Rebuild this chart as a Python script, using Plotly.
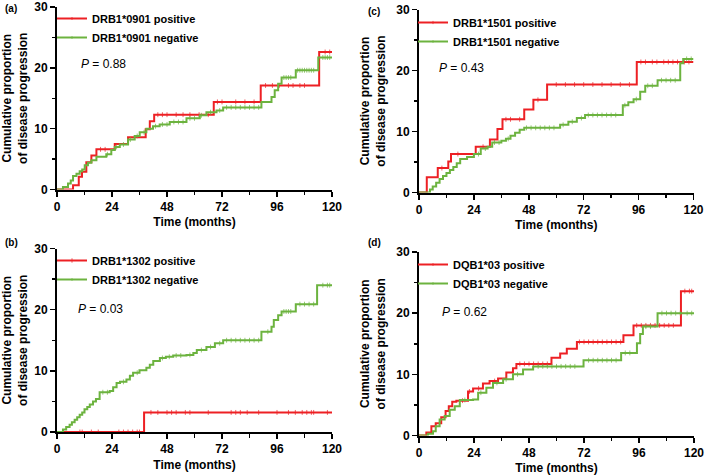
import numpy as np
import plotly.graph_objects as go

# ---------------- data ----------------
MONTH_TICKS = [0, 24, 48, 72, 96, 120]
PCT_TICKS = [0, 10, 20, 30]

# (a) DRB1*0901
a_pos_t = [0, 7.0, 9.5, 10.9, 12.8, 15.0, 17.2, 25.2, 31.0, 38.7, 40.5, 42.4, 68.4, 88.9, 114.4]
a_pos_v = [0, 0.7, 2.1, 2.9, 4.5, 5.6, 6.6, 7.5, 8.6, 9.9, 11.2, 12.3, 14.4, 17.1, 22.6]
a_pos_c = [19, 21, 44, 46, 48, 52, 55, 58, 62, 66, 70, 72, 78, 82, 86, 91, 94, 97, 101, 103, 106, 108, 117, 119]
a_neg_t = [0, 2.6, 4.8, 6.0, 7.0, 8.5, 9.9, 11.0, 12.1, 13.5, 15.0, 17.2, 21.5, 23.7, 25.2, 27.4, 31.0, 33.9,
           36.1, 39.0, 41.9, 44.8, 49.2, 56.5, 62.3, 65.2, 69.6, 72.5, 89.2, 93.6, 95.0, 96.5, 98.0, 104.2, 114.0]
a_neg_v = [0, 0.4, 1.0, 1.5, 2.2, 2.6, 3.0, 3.3, 4.0, 4.4, 4.8, 5.4, 5.8, 6.5, 7.0, 7.4, 8.2, 8.8,
           9.4, 10.0, 10.4, 10.7, 11.1, 11.7, 12.2, 12.7, 13.0, 13.5, 14.4, 15.2, 16.3, 17.4, 18.4, 19.6, 21.7]
a_neg_c = [22, 26, 29, 32, 35, 38, 43, 46, 48, 51, 53, 55, 58, 60, 63, 67, 71, 74, 76, 78, 80, 82, 84, 86,
           88, 99, 100, 101, 102, 105, 106, 107, 108, 109, 110, 111, 112, 116, 117, 118, 119]

# (c) DRB1*1501
c_pos_t = [0, 3.4, 8.2, 12.8, 14.0, 24.8, 31.0, 34.3, 36.5, 46.0, 50.0, 56.0, 95.2]
c_pos_v = [0, 2.5, 4.0, 5.1, 6.3, 7.5, 8.7, 10.4, 12.0, 13.6, 15.2, 17.7, 21.4]
c_pos_c = [10, 17, 28, 38, 40, 44, 52, 60, 64, 68, 72, 76, 80, 84, 88, 92, 97, 99, 102, 104, 107,
           109, 111, 113, 116, 118]
c_neg_t = [0, 4.8, 6.0, 7.5, 9.0, 10.5, 12.0, 13.5, 15.0, 16.5, 18.0, 21.0, 24.0, 27.0, 30.0, 32.0, 36.0,
           38.0, 40.0, 42.0, 44.0, 46.0, 61.7, 65.3, 69.0, 72.6, 89.1, 91.5, 93.8, 96.7, 98.9, 104.3, 114.2, 115.5]
c_neg_v = [0, 0.5, 1.0, 1.6, 2.2, 2.7, 3.2, 3.7, 4.2, 4.8, 5.5, 5.8, 6.3, 7.2, 7.5, 8.2, 8.5,
           8.8, 9.3, 9.8, 10.3, 10.6, 11.1, 11.6, 12.2, 12.7, 14.3, 14.8, 15.3, 16.5, 17.5, 18.4, 21.2, 21.9]
c_neg_c = [26, 29, 33, 35, 39, 47, 49, 51, 53, 55, 57, 59, 63, 67, 71, 74, 76, 78, 80, 82, 84, 86,
           90, 95, 100, 102, 106, 108, 110, 112, 117, 119]

# (b) DRB1*1302
b_pos_t = [0, 38.0]
b_pos_v = [0, 3.2]
b_pos_c = [10, 11, 15, 18, 27, 29, 31, 33, 35, 36, 41, 44, 48, 50, 52, 56, 58, 66, 76, 78, 80, 83, 88,
           96, 101, 104, 107, 109, 111, 112, 118]
b_neg_t = [0, 2.6, 4.0, 5.5, 6.5, 7.7, 8.8, 9.9, 11.0, 12.0, 13.2, 14.3, 15.7, 17.0, 18.6, 23.0, 24.5, 26.0,
           27.5, 30.3, 31.8, 33.2, 36.0, 39.0, 40.5, 42.0, 44.9, 47.5, 50.7, 56.5, 59.5, 61.0, 65.2, 68.9,
           72.5, 89.2, 93.6, 94.6, 96.5, 98.0, 104.2, 113.5]
b_neg_v = [0, 0.4, 0.8, 1.2, 1.6, 2.0, 2.4, 2.8, 3.2, 3.7, 4.1, 4.5, 5.0, 5.4, 6.5, 6.7, 7.3, 8.0,
           8.2, 8.6, 9.2, 9.7, 10.1, 10.5, 11.0, 11.6, 12.1, 12.3, 12.5, 12.6, 12.9, 13.4, 13.9, 14.5,
           15.0, 16.4, 17.2, 18.3, 19.1, 19.7, 20.9, 24.0]
b_neg_c = [20, 22, 29, 35, 46, 49, 52, 54, 58, 63, 67, 71, 74, 76, 78, 80, 82, 84, 86, 88, 92, 99, 100,
           101, 102, 106, 108, 110, 112, 116, 118, 119]

# (d) DQB1*03
d_pos_t = [0, 3.2, 5.4, 7.3, 9.7, 11.6, 13.0, 14.5, 16.3, 21.4, 23.6, 27.9, 30.8, 34.5, 38.1, 41.0, 42.5,
           57.8, 61.6, 64.5, 68.9, 89.2, 93.6, 114.3]
d_pos_v = [0, 0.5, 1.5, 2.0, 3.0, 4.0, 4.8, 5.5, 5.7, 7.2, 7.7, 8.5, 8.9, 9.3, 10.3, 11.0, 11.7,
           12.7, 13.4, 14.2, 15.3, 16.4, 18.0, 23.6]
d_pos_c = [19, 22, 26, 33, 44, 46, 48, 50, 52, 54, 56, 70, 72, 74, 76, 78, 80, 82, 84, 86, 88, 95, 97,
           99, 101, 103, 105, 107, 109, 111, 116, 118, 119]
d_neg_t = [0, 3.9, 6.1, 7.3, 9.0, 11.2, 13.4, 15.6, 17.8, 23.6, 25.8, 29.4, 32.3, 36.7, 41.0, 45.4, 49.8,
           71.8, 88.2, 95.1, 96.5, 97.7, 104.1]
d_neg_v = [0, 0.3, 0.7, 1.5, 2.6, 3.2, 4.2, 4.8, 5.8, 5.9, 7.0, 7.8, 8.6, 9.2, 10.0, 10.8, 11.3,
           12.3, 13.5, 15.1, 16.6, 17.8, 20.0]
d_neg_c = [20, 27, 34, 38, 43, 52, 54, 56, 58, 60, 62, 64, 66, 68, 74, 76, 78, 80, 82, 84, 86, 90, 92,
           99, 101, 106, 108, 110, 112, 114, 117, 119]

# ---------------- styles ----------------
RED = "#ed2024"
GREEN = "#6cb33f"
FONT = "Liberation Sans, Arial, sans-serif"
END = 120


def km_trace(t, v, cens, name, color, xa, ya, legend):
    t = np.asarray(t, float)
    v = np.asarray(v, float)
    c = np.asarray(cens, float)
    cv = v[np.searchsorted(t, c, side="right") - 1]
    x = np.concatenate([t, c, [END]])
    y = np.concatenate([v, cv, [v[-1]]])
    s = np.concatenate([np.zeros(len(t)), np.full(len(c), 3.5), [0.0]])
    o = np.argsort(x, kind="stable")
    return go.Scatter(
        x=x[o], y=y[o], name=name, mode="lines+markers",
        line=dict(color=color, width=2, shape="hv"),
        marker=dict(symbol="line-ns", size=s[o], color=color, line=dict(width=1, color=color)),
        xaxis=xa, yaxis=ya, legend=legend, hoverinfo="skip",
    )


panels = [
    ("x", "y", "legend", "DRB1*0901", (a_pos_t, a_pos_v, a_pos_c), (a_neg_t, a_neg_v, a_neg_c)),
    ("x2", "y2", "legend2", "DRB1*1501", (c_pos_t, c_pos_v, c_pos_c), (c_neg_t, c_neg_v, c_neg_c)),
    ("x3", "y3", "legend3", "DRB1*1302", (b_pos_t, b_pos_v, b_pos_c), (b_neg_t, b_neg_v, b_neg_c)),
    ("x4", "y4", "legend4", "DQB1*03", (d_pos_t, d_pos_v, d_pos_c), (d_neg_t, d_neg_v, d_neg_c)),
]

fig = go.Figure()
for xa, ya, lg, allele, pos, neg in panels:
    fig.add_trace(km_trace(*pos, f"{allele} positive", RED, xa, ya, lg))
    fig.add_trace(km_trace(*neg, f"{allele} negative", GREEN, xa, ya, lg))

W, H = 705, 476
# pixel boxes of the four plot areas: (left, right, top, bottom)
boxes = {
    "1": (57, 332, 7, 189.5),
    "2": (419, 693.5, 9.5, 192.5),
    "3": (57, 332, 248.5, 432),
    "4": (419, 694, 252, 435.5),
}

axis_common = dict(
    showline=True, linecolor="black", linewidth=2, ticks="outside", ticklen=5, tickwidth=1.5,
    tickcolor="black", showgrid=False, zeroline=False, fixedrange=True, automargin=False,
    tickfont=dict(family=FONT, size=12, color="black", weight="bold"),
)
layout = dict(
    width=W, height=H, margin=dict(l=0, r=0, t=0, b=0, autoexpand=False),
    paper_bgcolor="white", plot_bgcolor="white", showlegend=True,
)
for k, (l, r, t, b) in boxes.items():
    sx = "" if k == "1" else k
    layout[f"xaxis{sx}"] = dict(
        axis_common, domain=[l / W, r / W], range=[0, 120], tickvals=MONTH_TICKS,
        minor=dict(dtick=12, ticks="outside", ticklen=3.5, tickwidth=1.5, tickcolor="black"),
        anchor=f"y{sx}",
        title=dict(text="Time (months)", standoff=5,
                   font=dict(family=FONT, size=12, color="black", weight="bold")),
    )
    layout[f"yaxis{sx}"] = dict(
        axis_common, domain=[1 - b / H, 1 - t / H], range=[0, 30], tickvals=PCT_TICKS,
        minor=dict(dtick=5, ticks="outside", ticklen=3.5, tickwidth=1.5, tickcolor="black"),
        anchor=f"x{sx}",
        title=dict(text="Cumulative proportion<br>of disease progression", standoff=8,
                   font=dict(family=FONT, size=12, color="black", weight="bold")),
    )

legend_pos = {"legend": (52, 4), "legend2": (413, 8), "legend3": (52, 246), "legend4": (413, 250)}
for name, (lx, ly) in legend_pos.items():
    layout[name] = dict(
        x=lx / W, y=1 - ly / H, xanchor="left", yanchor="top", bgcolor="rgba(0,0,0,0)",
        font=dict(family=FONT, size=11, color="black", weight="bold"), tracegroupgap=0,
        itemclick=False, itemdoubleclick=False,
    )

ann = []
for txt, x, y in [("(a)", 3, 8), ("(c)", 366, 11), ("(b)", 3, 243), ("(d)", 366, 243)]:
    ann.append(dict(text=txt, x=x / W, y=1 - y / H, xref="paper", yref="paper", xanchor="left",
                    yanchor="middle", showarrow=False,
                    font=dict(family=FONT, size=10, color="black", weight="bold")))
for txt, x, y in [("0.88", 79, 64), ("0.43", 437, 68), ("0.03", 76, 309), ("0.62", 440, 312)]:
    ann.append(dict(text=f"<i>P</i> = {txt}", x=x / W, y=1 - y / H, xref="paper", yref="paper",
                    xanchor="left", yanchor="middle", showarrow=False,
                    font=dict(family=FONT, size=12, color="black")))
layout["annotations"] = ann

fig.update_layout(**layout)
fig.write_html(
    "out.html",
    config={"displayModeBar": False, "staticPlot": True},
    post_script="document.body.style.margin='0';document.body.style.padding='0';"
                "document.body.style.overflow='hidden';",
)
